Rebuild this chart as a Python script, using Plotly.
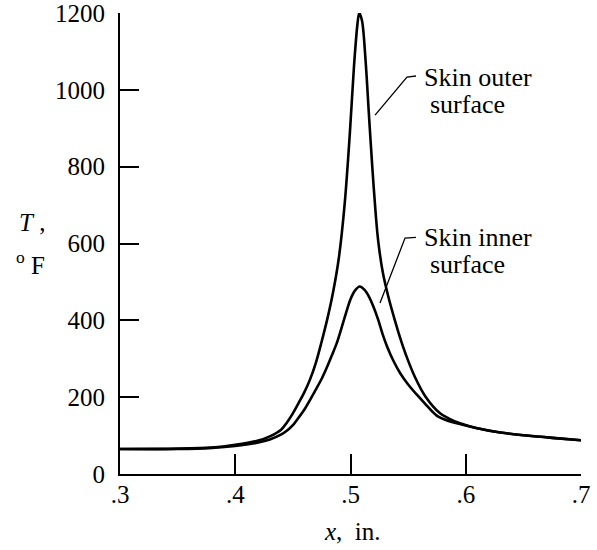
import plotly.graph_objects as go

# ---- data ----
outer_x = [0.30, 0.35, 0.38, 0.40, 0.42, 0.43, 0.44, 0.445, 0.45, 0.455, 0.46, 0.465, 0.47,
           0.475, 0.48, 0.485, 0.49, 0.495, 0.4995, 0.503, 0.506, 0.5076, 0.510, 0.513, 0.516,
           0.519, 0.522, 0.5241, 0.528, 0.5328, 0.538, 0.543, 0.549, 0.556, 0.565, 0.5777,
           0.585, 0.595, 0.61, 0.63, 0.653, 0.675, 0.70]
outer_T = [65, 66, 69, 76, 87, 98, 116, 135, 158, 185, 213, 247, 290,
           345, 405, 475, 565, 705, 890, 1060, 1170, 1200, 1180, 1080, 935,
           795, 672, 605, 525, 462, 405, 355, 303, 252, 202, 158,
           145, 132, 119, 108, 100, 94, 88]

inner_x = [0.30, 0.35, 0.38, 0.40, 0.42, 0.43, 0.44, 0.445, 0.45, 0.4533, 0.46, 0.4677, 0.475,
           0.48, 0.484, 0.488, 0.492, 0.496, 0.500, 0.504, 0.508, 0.512, 0.516, 0.520, 0.524,
           0.528, 0.532, 0.537, 0.543, 0.55, 0.5574, 0.565, 0.5748, 0.585, 0.595,
           0.61, 0.63, 0.653, 0.675, 0.70]
inner_T = [65, 65, 68, 73, 82, 90, 103, 113, 127, 140, 168, 208, 248,
           281, 310, 340, 378, 418, 455, 478, 488, 480, 462, 435, 402,
           363, 330, 296, 263, 233, 207, 182, 152, 138, 130,
           119, 108, 100, 94, 88]

x_ticks = [0.3, 0.4, 0.5, 0.6, 0.7]
x_tick_labels = [".3", ".4", ".5", ".6", ".7"]
y_ticks = [0, 200, 400, 600, 800, 1000, 1200]
y_tick_labels = ["0", "200", "400", "600", "800", "1000", "1200"]

outer_leader_x = [0.5213, 0.549, 0.5568]
outer_leader_T = [934, 1033, 1036]
inner_leader_x = [0.5256, 0.5473, 0.5568]
inner_leader_T = [445, 614, 616]

FONT = "Liberation Serif"
FS_TICK = 25
FS_TXT = 26

fig = go.Figure()
for xs, ys in [(outer_x, outer_T), (inner_x, inner_T)]:
    fig.add_trace(go.Scatter(x=xs, y=ys, mode="lines",
                             line=dict(color="black", width=2.6, shape="spline", smoothing=0.9),
                             hoverinfo="skip", showlegend=False))
for xs, ys in [(outer_leader_x, outer_leader_T), (inner_leader_x, inner_leader_T)]:
    fig.add_trace(go.Scatter(x=xs, y=ys, mode="lines",
                             line=dict(color="black", width=1.3),
                             hoverinfo="skip", showlegend=False))

ann = []
def txt(x, y, s, xref="x", yref="y", xanchor="left", size=FS_TXT):
    ann.append(dict(x=x, y=y, xref=xref, yref=yref, text=s, showarrow=False,
                    xanchor=xanchor, yanchor="middle",
                    font=dict(family=FONT, size=size, color="black")))

txt(0.5618, 1032, "Skin outer")
txt(0.5672, 962, "surface")
txt(0.5618, 615, "Skin inner")
txt(0.5672, 546, "surface")
txt(-0.2234, 655, "<i>T</i> ,", xref="paper", size=FS_TICK)
txt(-0.23, 550, "<sup>o</sup> F", xref="paper", size=FS_TICK)
txt(0.5013, -0.1247, "<i>x</i>,&nbsp; in.", yref="paper", xanchor="center", size=FS_TICK)

fig.update_layout(
    width=597, height=550,
    margin=dict(l=120, r=16, t=13, b=76),
    paper_bgcolor="white", plot_bgcolor="white",
    font=dict(family=FONT, size=FS_TICK, color="black"),
    annotations=ann,
    xaxis=dict(range=[0.3, 0.7], tickmode="array", tickvals=x_ticks, ticktext=x_tick_labels,
               ticks="inside", ticklen=20, tickwidth=2, tickcolor="black",
               showline=True, linecolor="black", linewidth=2.2, showgrid=False, zeroline=False,
               ticklabelstandoff=-3, ticklabeloverflow="allow", automargin=False),
    yaxis=dict(range=[0, 1200], tickmode="array", tickvals=y_ticks, ticktext=y_tick_labels,
               ticks="inside", ticklen=19, tickwidth=2, tickcolor="black",
               showline=True, linecolor="black", linewidth=2.2, showgrid=False, zeroline=False,
               ticklabelstandoff=8, ticklabeloverflow="allow", automargin=False),
)

fig.write_html("out.html")
